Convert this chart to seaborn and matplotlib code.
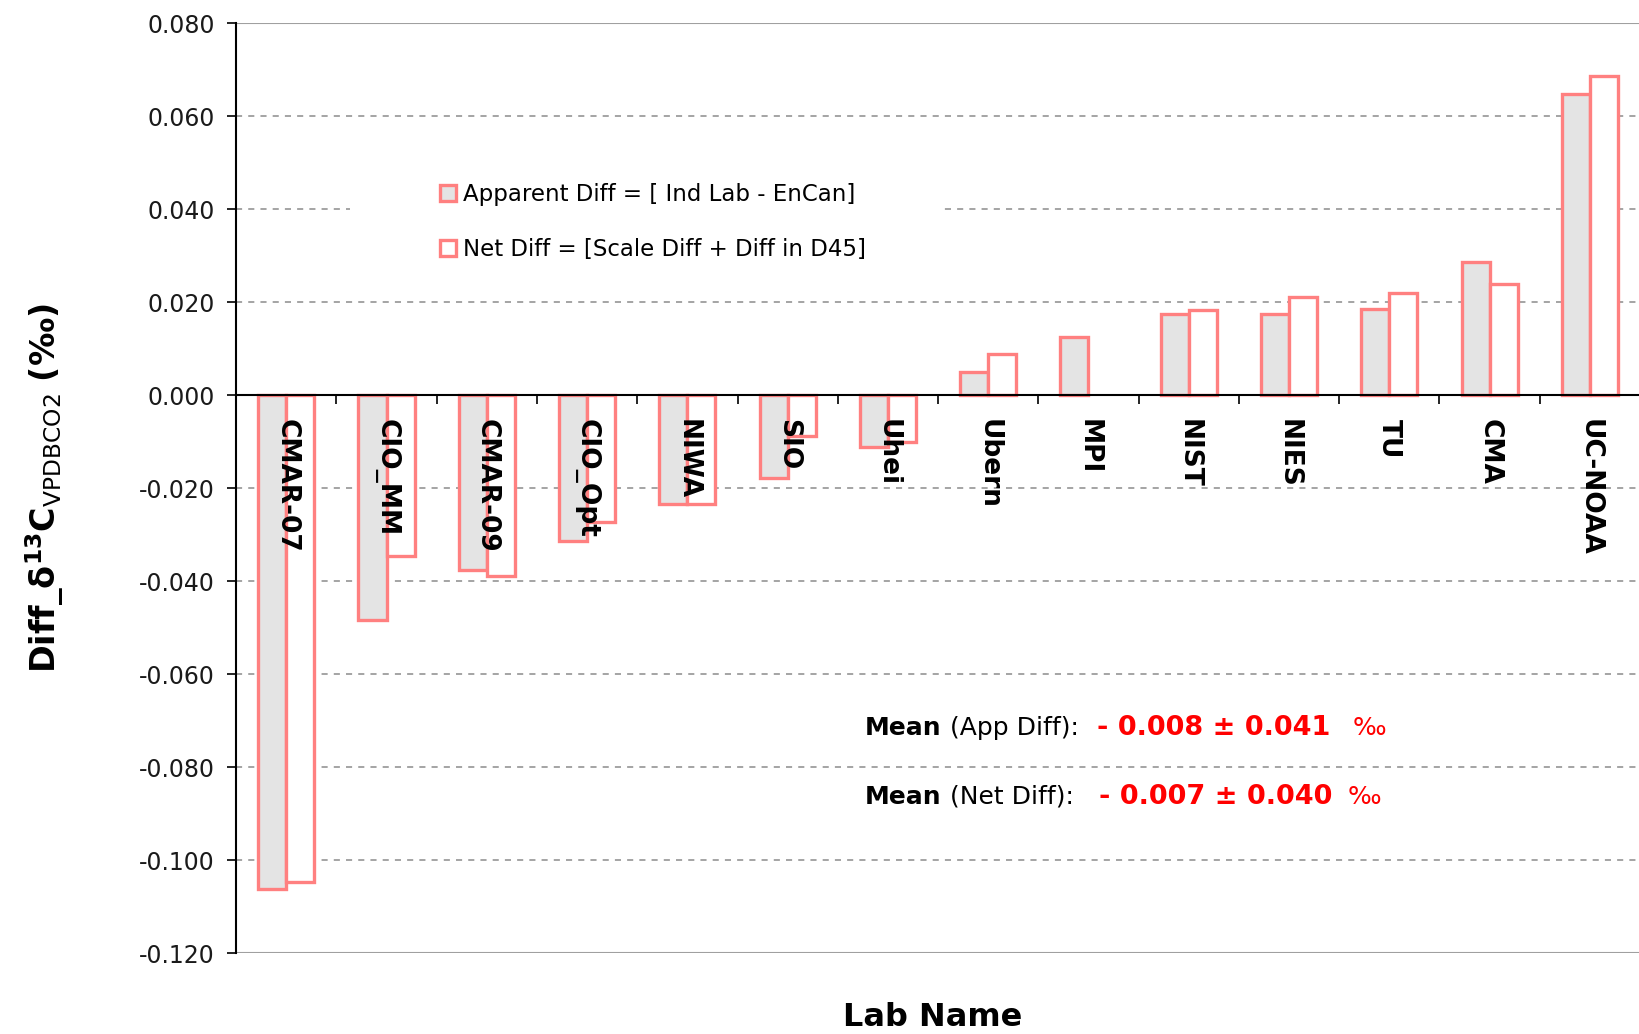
import numpy as np
import pandas as pd
import matplotlib
matplotlib.use("Agg")
import matplotlib.pyplot as plt
from matplotlib.patches import Patch, Rectangle
from matplotlib.ticker import FixedLocator, FuncFormatter
import seaborn as sns

# ----- données -----
labs = ["CMAR-07", "CIO_MM", "CMAR-09", "CIO_Opt", "NIWA", "SIO", "Uhei",
        "Ubern", "MPI", "NIST", "NIES", "TU", "CMA", "UC-NOAA"]
app_diff = [-0.1062, -0.0484, -0.0376, -0.0313, -0.0234, -0.0178, -0.0112,
            0.0049, 0.0124, 0.0175, 0.0175, 0.0184, 0.0286, 0.0648]
net_diff = [-0.1048, -0.0346, -0.0389, -0.0272, -0.0234, -0.0088, -0.0101,
            0.0088, np.nan, 0.0182, 0.0211, 0.0220, 0.0238, 0.0686]
series = ["Apparent Diff = [ Ind Lab - EnCan]", "Net Diff = [Scale Diff + Diff in D45]"]
y_ticks = [-0.120, -0.100, -0.080, -0.060, -0.040, -0.020, 0.000,
           0.020, 0.040, 0.060, 0.080]

df = pd.DataFrame({"lab": labs, series[0]: app_diff, series[1]: net_diff})
df = df.melt(id_vars="lab", var_name="serie", value_name="diff")

# ----- style -----
sns.set_style("white")
plt.rcParams["font.family"] = ["DejaVu Sans"]
plt.rcParams["mathtext.fontset"] = "dejavusans"
plt.rcParams["text.color"] = "black"
plt.rcParams["axes.labelcolor"] = "black"
plt.rcParams["xtick.color"] = "black"
plt.rcParams["ytick.color"] = "black"

edge = "#FF8080"
fills = {series[0]: "#E4E4E4", series[1]: "white"}

fig = plt.figure(figsize=(16.4, 10.34), dpi=100)
ax = fig.add_axes([0.144, 0.0783, 0.856, 0.8994])

sns.barplot(data=df, x="lab", y="diff", hue="serie", hue_order=series,
            palette=fills, saturation=1, width=0.56, edgecolor=edge,
            linewidth=2.4, legend=False, ax=ax, zorder=2)

ax.set_xlim(-0.5, len(labs) - 0.5)
ax.set_ylim(y_ticks[0], y_ticks[-1])

# axe Y
ax.yaxis.set_major_locator(FixedLocator(y_ticks))
ax.yaxis.set_major_formatter(FuncFormatter(lambda v, p: f"{v:.3f}"))
ax.tick_params(axis="y", direction="out", length=6.5, width=1.2, color="black",
               labelsize=17, labelcolor="#1A1A1A", pad=9, left=True)
ax.set_axisbelow(True)
ax.grid(axis="y", color="#8C8C8C", linestyle=(0, (4, 4)), linewidth=1.1)
for val, gl in zip(y_ticks, ax.yaxis.get_gridlines()):
    if val in (y_ticks[0], y_ticks[-1]):
        gl.set_linestyle("-")
        gl.set_color("#A0A0A0")
        gl.set_linewidth(1.5)
    elif val == 0:
        gl.set_visible(False)

# axe X sur la ligne zéro
for s in ["top", "right"]:
    ax.spines[s].set_visible(False)
ax.spines["bottom"].set_position(("data", 0))
ax.spines["bottom"].set_color("black")
ax.spines["bottom"].set_linewidth(1.5)
ax.spines["left"].set_color("black")
ax.spines["left"].set_linewidth(1.5)

ax.set_xticks(range(len(labs)))
ax.set_xticklabels(labs, rotation=270, fontsize=19, fontweight="bold", color="black")
ax.set_xticks(np.arange(-0.5, len(labs), 1.0), minor=True)
ax.tick_params(axis="x", which="major", length=0, pad=17)
ax.tick_params(axis="x", which="minor", direction="out", length=6.5, width=1.2,
               color="black", bottom=True)
ax.xaxis.set_zorder(4)  # noms des labos au-dessus des barres

# titres des axes
ax.set_xlabel("Lab Name", fontsize=23, fontweight="bold", color="black")
ax.xaxis.set_label_coords(0.496, -0.053)
ax.set_ylabel(r"$\mathbf{Diff\_\delta^{13}C}_{\mathrm{VPDBCO2}}\ \mathbf{(‰)}$",
              fontsize=24, color="black")
ax.yaxis.set_label_coords(-0.121, 0.5)

# légende sur fond blanc
ax.add_patch(Rectangle((0.081, 0.73), 0.421, 0.14, transform=ax.transAxes,
                       facecolor="white", edgecolor="none", zorder=1))
handles = [Patch(facecolor=fills[s], edgecolor=edge, linewidth=2.4) for s in series]
ax.legend(handles, series, loc="upper left", bbox_to_anchor=(0.145, 0.828),
          frameon=False, fontsize=16.5, handlelength=0.7, handleheight=0.7,
          handletextpad=0.3, labelspacing=1.4, borderaxespad=0, borderpad=0,
          labelcolor="black")

# moyennes
lines = [(0.296, "(App Diff):", "- 0.008 \u00b1 0.041", 0.669, 0.8245),
         (0.2295, "(Net Diff):", "- 0.007 \u00b1 0.040", 0.6703, 0.822)]
for y, lab, val, xr, xp in lines:
    fig.text(0.527, y, "Mean", fontsize=18, fontweight="bold", va="center", color="black")
    fig.text(0.579, y, lab, fontsize=18, va="center", color="black")
    fig.text(xr, y, val, fontsize=19.5, fontweight="bold", color="#FF0000", va="center")
    fig.text(xp, y, "‰", fontsize=18, color="#FF0000", va="center")

fig.savefig("out.png", dpi=100)
